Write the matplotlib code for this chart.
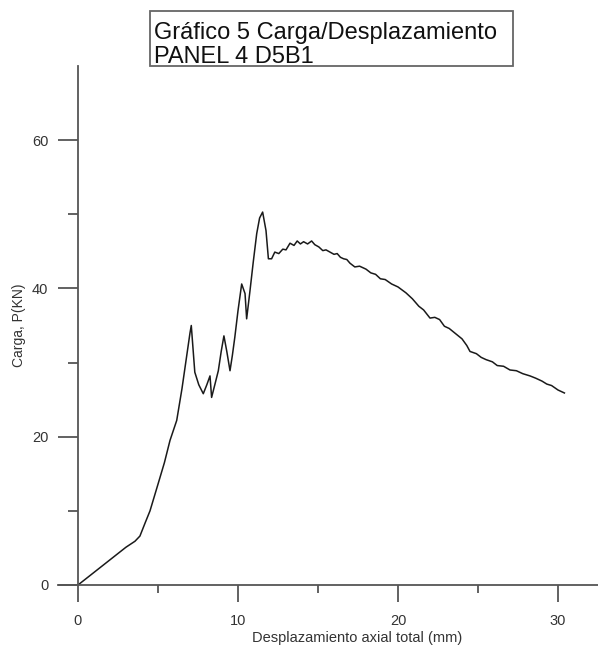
import matplotlib
matplotlib.use('Agg')
import matplotlib.pyplot as plt
from matplotlib.patches import Rectangle

plt.rcParams['font.family'] = ['Liberation Sans', 'DejaVu Sans']

# curva carga / desplazamiento
desp = [0, 1.0, 2.0, 3.0, 3.56, 3.87, 4.2, 4.5, 5.0, 5.4, 5.75, 6.17, 6.5, 6.8,
        7.0, 7.08, 7.15, 7.3, 7.55, 7.83, 8.05, 8.25, 8.35, 8.55, 8.77, 8.95,
        9.12, 9.3, 9.5, 9.65, 9.8, 10.0, 10.23, 10.44, 10.54, 10.75, 10.95,
        11.17, 11.35, 11.54, 11.75, 11.9, 12.1, 12.3, 12.55, 12.8, 13.0, 13.25,
        13.5, 13.7, 13.9, 14.1, 14.35, 14.6, 14.8, 15.05, 15.3, 15.5, 15.75,
        16.0, 16.2, 16.4, 16.6, 16.8, 17.0, 17.3, 17.6, 18.0, 18.3, 18.6, 18.9,
        19.2, 19.6, 20.0, 20.5, 20.9, 21.3, 21.6, 22.0, 22.3, 22.6, 22.9, 23.2,
        23.6, 24.0, 24.3, 24.5, 24.9, 25.2, 25.5, 25.9, 26.2, 26.6, 27.0, 27.4,
        27.8, 28.25, 28.6, 29.0, 29.3, 29.6, 30.0, 30.2, 30.4]
carga = [0, 1.7, 3.4, 5.1, 5.9, 6.6, 8.4, 10.0, 13.6, 16.5, 19.5, 22.2, 26.5,
         31.0, 34.0, 35.0, 33.0, 28.7, 27.0, 25.8, 27.0, 28.2, 25.3, 27.0, 28.9,
         31.5, 33.6, 31.5, 28.9, 31.0, 33.4, 37.0, 40.6, 39.3, 35.9, 39.7, 43.5,
         47.4, 49.5, 50.3, 47.8, 44.0, 44.0, 44.9, 44.7, 45.3, 45.2, 46.1,
         45.8, 46.4, 46.0, 46.3, 46.0, 46.4, 45.9, 45.6, 45.1, 45.2, 44.9,
         44.6, 44.7, 44.2, 44.0, 43.9, 43.4, 42.9, 43.0, 42.6, 42.1, 41.9, 41.3,
         41.2, 40.6, 40.2, 39.4, 38.6, 37.6, 37.1, 36.0, 36.1, 35.8, 34.9, 34.6,
         33.9, 33.2, 32.3, 31.5, 31.2, 30.7, 30.4, 30.1, 29.6, 29.5, 29.0, 28.9,
         28.5, 28.2, 27.9, 27.5, 27.1, 26.9, 26.3, 26.1, 25.9]

fig = plt.figure(figsize=(5.98, 6.47), dpi=100)
ax = fig.add_axes([58 / 598, 1 - 585 / 647, 540 / 598, 519 / 647])
ax.plot(desp, carga, color='#1a1a1a', lw=1.1)

ax.set_xlim(-1.25, 32.5)
ax.set_ylim(0, 70)
ax.spines['top'].set_visible(False)
ax.spines['right'].set_visible(False)
ax.spines['left'].set_position(('data', 0))
for s in ['left', 'bottom']:
    ax.spines[s].set_color('#555555')
    ax.spines[s].set_linewidth(1.3)

ax.set_xticks([0, 10, 20, 30])
ax.set_xticks([5, 15, 25], minor=True)
ax.set_yticks([0, 20, 40, 60])
ax.set_yticks([10, 30, 50], minor=True)
ax.tick_params(which='both', width=1.3, color='#555555', direction='out',
               labelsize=10.5, labelcolor='#333333')
ax.tick_params(axis='x', which='major', length=12, pad=9)
ax.tick_params(axis='x', which='minor', length=6)
ax.tick_params(axis='y', which='major', length=14.4, pad=7)
ax.tick_params(axis='y', which='minor', length=7)

ax.set_xlabel('Desplazamiento axial total (mm)', fontsize=10.5, color='#333333')
ax.xaxis.set_label_coords(0.554, -0.088)
ax.set_ylabel('Carga, P(KN)', fontsize=10, color='#333333')
ax.yaxis.set_label_coords(-0.06, 0.5)

# recuadro del título
fig.patches.append(Rectangle((150 / 598, 1 - 66 / 647), 363 / 598, 55 / 647,
                             transform=fig.transFigure, fill=False,
                             edgecolor='#666666', lw=1.3))
fig.text(154 / 598, 1 - 38.5 / 647, 'Gráfico 5 Carga/Desplazamiento',
         fontsize=17, va='baseline', color='#111111')
fig.text(154 / 598, 1 - 63 / 647, 'PANEL 4 D5B1',
         fontsize=17, va='baseline', color='#111111')

fig.savefig('out.png', dpi=100)
